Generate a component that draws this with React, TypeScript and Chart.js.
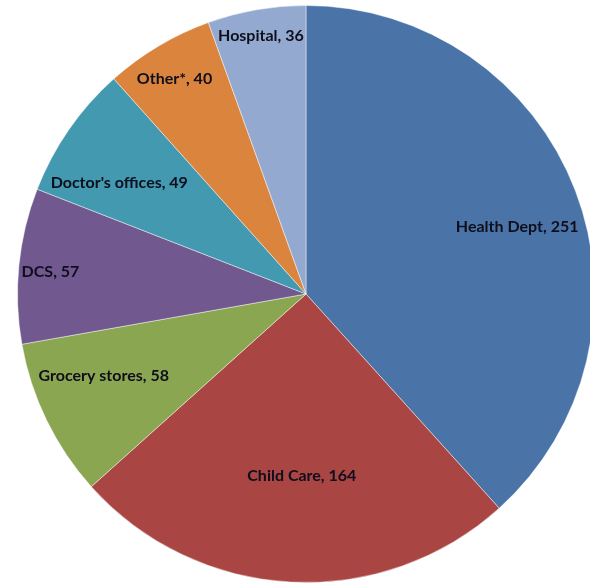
import React, { useEffect, useRef } from "react";
import { Chart, registerables } from "chart.js";

Chart.register(...registerables);

const categories = [
  "Health Dept",
  "Child Care",
  "Grocery stores",
  "DCS",
  "Doctor's offices",
  "Other*",
  "Hospital",
];
const values = [251, 164, 58, 57, 49, 40, 36];
const colors = ["#4A74A8", "#A94543", "#8BA651", "#71588F", "#4299B0", "#DB843D", "#93A9D0"];
// label placement: fraction of radius, angle nudge (deg)
const labelRadius = [0.768, 0.63, 0.756, 0.889, 0.754, 0.873, 0.91];
const labelNudge = [3.4, -1.7, 4, -0.7, -3.9, -0.7, 0];

const labelPlugin = {
  id: "sliceLabels",
  afterDatasetsDraw(chart: any) {
    const ctx = chart.ctx;
    const meta = chart.getDatasetMeta(0);
    ctx.save();
    ctx.font = "bold 16px Lato, 'Open Sans', sans-serif";
    ctx.fillStyle = "#0e0e1c";
    ctx.textAlign = "center";
    ctx.textBaseline = "middle";
    meta.data.forEach((arc: any, i: number) => {
      const p = arc.getProps(["x", "y", "startAngle", "endAngle", "outerRadius"], true);
      const a = (p.startAngle + p.endAngle) / 2 + (labelNudge[i] * Math.PI) / 180;
      const r = p.outerRadius * labelRadius[i];
      const x = p.x + Math.cos(a) * r;
      const y = p.y + Math.sin(a) * r;
      ctx.fillText(`${categories[i]}, ${values[i]}`, x, y);
    });
    ctx.restore();
  },
};

export default function App() {
  const ref = useRef<HTMLCanvasElement | null>(null);
  useEffect(() => {
    if (!ref.current) return;
    const chart = new Chart(ref.current, {
      type: "pie",
      data: {
        labels: categories,
        datasets: [
          {
            data: values,
            backgroundColor: colors,
            borderColor: "rgba(255,255,255,0.45)",
            borderWidth: 1,
          },
        ],
      },
      options: {
        animation: false,
        responsive: false,
        devicePixelRatio: 1,
        layout: { padding: { left: 17, right: 17, top: 4, bottom: 0 } },
        plugins: {
          legend: { display: false },
          tooltip: { enabled: false },
        },
      },
      plugins: [labelPlugin],
    });
    return () => chart.destroy();
  }, []);
  return (
    <div
      style={{
        position: "fixed",
        left: 0,
        top: 0,
        width: 590,
        height: 584,
        overflow: "hidden",
        background: "#fff",
      }}
    >
      <canvas ref={ref} width={612} height={584} style={{ display: "block" }} />
    </div>
  );
}
